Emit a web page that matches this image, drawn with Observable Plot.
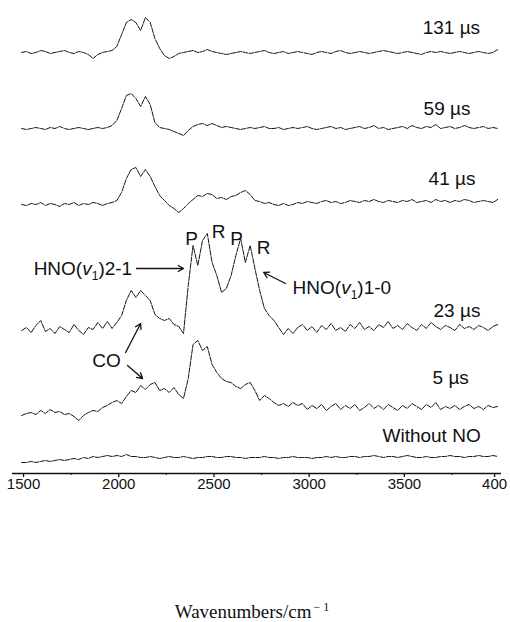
<!DOCTYPE html>
<html><head><meta charset="utf-8">
<script src="https://cdn.jsdelivr.net/npm/d3@7"></script>
<script src="https://cdn.jsdelivr.net/npm/@observablehq/plot@0.6"></script>
<style>body{margin:0;background:#fff;}</style>
</head><body><div id="chart"></div>
<script>
// Spectra sampled every 25 cm^-1 starting at 1490 cm^-1 (101 samples each)
const wavenumberStart = 1490, wavenumberStep = 25;
const traceNames = ["131 µs", "59 µs", "41 µs", "23 µs", "5 µs", "Without NO"];
// vertical offset of each spectrum (arbitrary intensity units)
const traceOffsets = [421, 345, 271, 143, 65, 16];

const t131 = [
0,1,-1,0,2,1,-1,0,1,2,
0,-1,1,0,-2,-6,-2,0,1,2,
6,18,30,33,30,22,35,30,14,4,
-3,-6,-4,-1,0,1,2,0,1,3,
1,0,-1,-2,-1,0,1,0,-1,0,
1,2,0,-1,0,1,-1,0,1,0,
-1,-2,0,1,0,-1,1,2,0,-1,
0,1,0,-1,0,1,2,1,0,-1,
0,1,0,-1,-2,0,1,0,1,0,
-1,0,1,0,-1,0,1,0,-1,0,
3];
const t59 = [
0,-1,0,1,0,-1,1,0,2,0,
-1,0,1,0,-1,0,1,0,1,3,
8,20,33,35,30,22,32,24,6,1,
0,-1,-3,-5,-7,-2,2,4,5,3,
5,3,1,2,1,0,-1,0,1,0,
1,2,0,0,1,-1,0,1,0,1,
2,0,-1,0,1,2,0,1,-1,0,
1,2,0,1,3,0,1,-1,0,1,
2,0,3,1,0,2,1,4,0,1,
2,0,1,3,1,0,1,2,0,1,
0];
const t41 = [
-2,-3,-1,-2,0,-3,-1,-2,-4,-1,
-2,0,-3,-1,-2,0,-1,-3,-1,0,
2,10,24,33,35,26,33,26,16,7,
2,-3,-6,-10,-6,-1,3,7,6,9,
8,4,5,3,6,7,10,12,8,2,
1,-1,0,-2,-3,-1,-3,-2,0,-1,
1,0,-1,1,2,0,1,-1,0,2,
1,0,2,1,3,1,0,2,1,0,
2,1,3,0,1,2,0,3,1,2,
0,2,1,3,2,0,1,2,1,0,
3];
const t23 = [
0,3,-2,5,10,-1,2,-3,4,1,
-2,6,0,-4,3,1,8,2,9,2,
8,15,30,40,33,40,35,30,16,12,
10,12,6,4,-3,45,85,65,90,97,
68,55,38,42,55,75,92,68,85,62,
40,22,15,10,3,-4,2,-3,3,6,
0,4,-2,5,1,7,0,3,-1,6,
2,8,1,4,0,6,3,9,2,5,
1,7,3,0,6,2,8,4,1,5,
3,0,6,2,4,1,5,3,0,4,
6];
const t5 = [
-7,-5,-4,-6,-2,-5,-1,-4,-3,-6,
-5,-8,-12,-7,-4,-2,-3,1,3,6,
8,5,12,18,16,23,19,24,26,18,
20,16,21,14,10,30,64,68,58,62,
44,36,30,27,26,22,20,24,26,18,
8,13,10,6,3,5,2,6,3,5,
-1,3,0,4,-2,2,5,-1,3,0,
4,-2,1,5,0,3,-1,4,1,-2,
3,0,5,2,-1,4,1,6,-1,2,
0,3,-1,2,4,0,2,-1,3,1,
2];
const tNoNO = [
-5,-5,-4,-5,-4,-3,-4,-3,-2,-3,
-2,-1,-2,0,-1,1,0,1,2,1,
2,1,3,1,1,0,0,1,0,-1,
0,1,0,0,1,0,-1,0,0,1,
1,0,0,1,1,0,0,-1,0,0,
0,1,0,0,-1,0,0,1,0,0,
0,-1,0,0,1,0,1,0,0,1,
1,0,1,1,2,1,0,1,1,0,
1,2,1,0,0,1,0,0,1,1,
2,1,1,0,1,1,2,1,1,2,
1];

const xTicks = [1500, 2000, 2500, 3000, 3500];
const xLastTick = [4000];
// the figure prints the last tick label cut to "400"
const xLastTickLabel = "400";
const xMinorTicks = [1750, 2250, 2750, 3250, 3750];
const xLabel = "Wavenumbers/cm-1";

// trace labels (data coordinates)
const traceLabelX = [3596, 3601, 3627, 3653, 3648, 3385];
const traceLabelY = [446, 365, 295, 163, 96, 38];

const annotations = [
  {text: "HNO(v1)2-1", x: 1553, y: 205, anchor: "start"},
  {text: "HNO(v1)1-0", x: 2913, y: 186, anchor: "start"},
  {text: "P", x: 2382, y: 235, anchor: "middle"},
  {text: "R", x: 2524, y: 242, anchor: "middle"},
  {text: "P", x: 2619, y: 235, anchor: "middle"},
  {text: "R", x: 2761, y: 226, anchor: "middle"},
  {text: "CO", x: 1936, y: 113, anchor: "middle"}
];
const arrows = [
  {x1: 2093, y1: 205, x2: 2340, y2: 205},
  {x1: 2876, y1: 190, x2: 2761, y2: 201},
  {x1: 2036, y1: 121, x2: 2115, y2: 150},
  {x1: 2046, y1: 108, x2: 2125, y2: 95}
];

const traces = [t131, t59, t41, t23, t5, tNoNO];
const rows = traces.flatMap((vals, k) => vals.map((v, i) => ({
  trace: traceNames[k], wn: wavenumberStart + wavenumberStep * i, y: traceOffsets[k] + v
})));
const labels = traceNames.map((name, k) => ({text: name, x: traceLabelX[k], y: traceLabelY[k]}));

const sans = "'Liberation Sans', Arial, sans-serif";
const axisStyle = {tickSize: 4, tickPadding: 1, label: null, fontSize: 15, fill: "#111", stroke: "#111", strokeWidth: 1.3};
const plot = Plot.plot({
  width: 510, height: 622,
  marginLeft: 12, marginRight: 9, marginTop: 0, marginBottom: 149,
  style: {fontFamily: sans, background: "white", color: "#111"},
  x: {domain: [1442, 4010]},
  y: {domain: [0, 473], axis: null},
  marks: [
    Plot.ruleY([0], {stroke: "#111", strokeWidth: 1.4}),
    Plot.axisX({ticks: xMinorTicks, tickSize: 2, tickFormat: () => "", label: null, stroke: "#111"}),
    Plot.axisX({...axisStyle, ticks: xTicks, tickFormat: d => String(d)}),
    Plot.axisX({...axisStyle, ticks: xLastTick, tickFormat: () => xLastTickLabel, dx: -5}),
    Plot.line(rows, {x: "wn", y: "y", z: "trace", stroke: "#151515", strokeWidth: 1, strokeDasharray: "5,1.3"}),
    Plot.text(labels, {x: "x", y: "y", text: "text", textAnchor: "start", fontSize: 19, fill: "#111"}),
    Plot.text(annotations, {x: "x", y: "y", text: "text", textAnchor: "start", fontSize: 19, fill: "#111",
      filter: d => d.anchor === "start"}),
    Plot.text(annotations, {x: "x", y: "y", text: "text", textAnchor: "middle", fontSize: 19, fill: "#111",
      filter: d => d.anchor === "middle"}),
    Plot.arrow(arrows, {x1: "x1", y1: "y1", x2: "x2", y2: "y2", stroke: "#111", strokeWidth: 1.3, headLength: 7}),
    Plot.text([xLabel], {text: d => d, frameAnchor: "bottom", dy: 144, dx: -5,
      fontFamily: "'Liberation Serif', 'Times New Roman', serif", fontSize: 19, fill: "#111"})
  ]
});

// rich text: italic v with subscript 1, superscript -1
d3.select(plot).selectAll("text").each(function() {
  const t = this.textContent;
  const sel = d3.select(this);
  if (t.startsWith("HNO(v1)")) {
    const rest = t.slice(7);
    sel.text(null);
    sel.append("tspan").text("HNO(");
    sel.append("tspan").attr("font-style", "italic").text("v");
    sel.append("tspan").attr("font-size", 12).attr("dy", 5).text("1");
    sel.append("tspan").attr("dy", -5).text(")" + rest);
  } else if (t === xLabel) {
    sel.text(null);
    sel.append("tspan").text("Wavenumbers/cm");
    sel.append("tspan").attr("font-size", 12).attr("dy", -7).attr("dx", 2).text("− 1");
  }
});
document.getElementById("chart").appendChild(plot);
</script>
</body></html>
